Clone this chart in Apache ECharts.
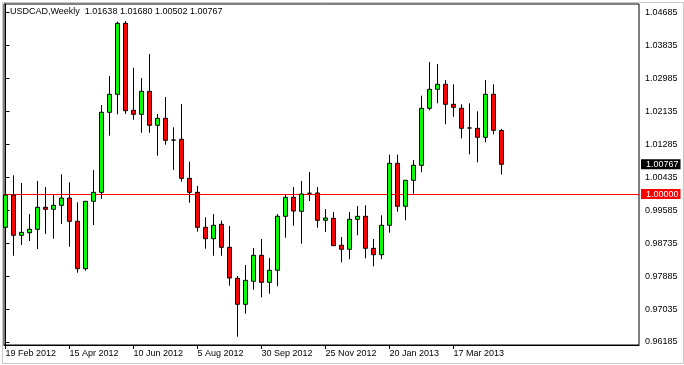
<!DOCTYPE html>
<html><head><meta charset="utf-8">
<script src="https://cdn.jsdelivr.net/npm/echarts@6/dist/echarts.min.js"></script>
<style>html,body{margin:0;padding:0;background:#fff;overflow:hidden}#c{width:684px;height:365px}</style>
</head><body><div id="c"></div>
<script>
const symbol = 'USDCAD';
const period = 'Weekly';
const weeks = ['19 Feb 2012','26 Feb 2012','4 Mar 2012','11 Mar 2012','18 Mar 2012','25 Mar 2012','1 Apr 2012','8 Apr 2012',
  '15 Apr 2012','22 Apr 2012','29 Apr 2012','6 May 2012','13 May 2012','20 May 2012','27 May 2012','3 Jun 2012',
  '10 Jun 2012','17 Jun 2012','24 Jun 2012','1 Jul 2012','8 Jul 2012','15 Jul 2012','22 Jul 2012','29 Jul 2012',
  '5 Aug 2012','12 Aug 2012','19 Aug 2012','26 Aug 2012','2 Sep 2012','9 Sep 2012','16 Sep 2012','23 Sep 2012',
  '30 Sep 2012','7 Oct 2012','14 Oct 2012','21 Oct 2012','28 Oct 2012','4 Nov 2012','11 Nov 2012','18 Nov 2012',
  '25 Nov 2012','2 Dec 2012','9 Dec 2012','16 Dec 2012','23 Dec 2012','30 Dec 2012','6 Jan 2013','13 Jan 2013',
  '20 Jan 2013','27 Jan 2013','3 Feb 2013','10 Feb 2013','17 Feb 2013','24 Feb 2013','3 Mar 2013','10 Mar 2013',
  '17 Mar 2013','24 Mar 2013','31 Mar 2013','7 Apr 2013','14 Apr 2013','21 Apr 2013','28 Apr 2013'];
const opens = [0.99142,0.99975,0.98936,0.99003,0.99091,0.99658,0.99606,0.99709,0.99897,0.99297,
  0.98075,0.99812,1.00044,1.02107,1.02571,1.04401,1.02158,1.02055,1.02648,1.01772,
  1.01952,1.01390,1.01411,1.00405,1.00044,0.99142,0.98848,0.99219,0.98626,0.97827,
  0.97157,0.97750,0.98420,0.97724,0.98034,0.99426,0.99916,0.99555,1.00019,1.00026,
  0.99323,0.99374,0.98678,0.98575,0.99348,0.99426,0.98601,0.98436,0.99194,1.00792,
  0.99684,1.00354,1.00741,1.02210,1.02700,1.02829,1.02313,1.02210,1.01702,1.01694,
  1.01462,1.02571,1.01638];
const closes = [0.99975,0.98936,0.99013,0.99091,0.99658,0.99606,0.99709,0.99897,0.99297,0.98075,
  0.99812,1.00044,1.02107,1.02571,1.04401,1.02148,1.02055,1.02648,1.01772,1.01952,
  1.01385,1.01390,1.00405,1.00044,0.99142,0.98848,0.99194,0.98626,0.97835,0.97157,
  0.97776,0.98420,0.97724,0.98034,0.99426,0.99916,0.99562,1.00001,1.00019,0.99323,
  0.99382,0.98668,0.98575,0.99348,0.99426,0.98601,0.98436,0.99194,1.00792,0.99684,
  1.00354,1.00741,1.02210,1.02700,1.02829,1.02313,1.02236,1.01694,1.01702,1.01462,
  1.02571,1.01643,1.00767];
const lows = [0.99047,0.98410,0.98686,0.98789,0.98583,0.98969,0.98848,0.99227,0.98642,0.97972,
  0.98023,0.99201,0.99879,1.01504,1.02055,1.02063,1.01916,1.01581,1.01581,1.00988,
  1.01272,1.00619,1.00318,0.99776,0.99029,0.98590,0.98410,0.98410,0.97636,0.96322,
  0.96915,0.97533,0.97337,0.97430,0.97621,0.98874,0.99183,0.98719,0.99820,0.99132,
  0.99021,0.98668,0.98240,0.98317,0.98936,0.98343,0.98137,0.98317,0.99003,0.99544,
  0.99323,1.00008,1.00560,1.02158,1.02339,1.01798,1.01994,1.01437,1.01024,1.00818,
  1.01334,1.01540,1.00502];
const highs = [1.00173,1.00483,1.00284,0.99485,1.00336,1.00181,0.99975,1.00508,1.00302,0.99787,
  0.99812,1.00619,1.02295,1.03043,1.04443,1.04461,1.03257,1.02991,1.03610,1.02063,
  1.02501,1.01720,1.02321,1.00833,1.00207,0.99400,0.99485,0.99312,0.99176,0.97887,
  0.98170,0.98608,0.98840,0.98351,0.99485,0.99975,1.00181,1.00336,1.00568,1.00181,
  0.99614,0.99537,0.98892,0.99537,0.99691,0.99709,0.98840,0.99451,1.01014,1.01014,
  1.00354,1.00877,1.02535,1.03404,1.03352,1.02940,1.02829,1.02313,1.02339,1.02133,
  1.02940,1.02829,1.01680];
const yTicks = [0.96185,0.97035,0.97885,0.98735,0.99585,1.00435,1.01285,1.02135,1.02985,1.03835,1.04685];
const xTickIdx = [0,8,16,24,32,40,48,56];
const levelPrice = 1.00000;
const yMin = 0.96108, yMax = 1.04899;
const xMin = -0.1875, xMax = 79.1875;

const FONT = '"Liberation Sans", Arial, sans-serif';
const last = opens.length - 1;
const data = weeks.map((w, i) => [i, opens[i], closes[i], lows[i], highs[i]]);
const titleText = symbol + ',' + period + '  ' + [opens[last], highs[last], lows[last], closes[last]].map(v => v.toFixed(5)).join(' ');

const chart = echarts.init(document.getElementById('c'), null, {renderer: 'canvas'});
chart.setOption({
  animation: false,
  backgroundColor: '#fff',
  title: {text: titleText, left: 10, top: 7, padding: 0,
    textStyle: {fontFamily: FONT, fontSize: 9, fontWeight: 'normal', color: '#000'}},
  graphic: [{type: 'rect', left: 0, top: 0, z: -1, silent: true,
    shape: {x: 0.5, y: 0.5, width: 681, height: 361},
    style: {fill: 'none', stroke: '#c8c8c8', lineWidth: 1}}],
  grid: {left: 4, right: 45, top: 4, bottom: 20, show: true, borderColor: '#000', borderWidth: 1, backgroundColor: '#fff'},
  xAxis: {
    type: 'value', min: xMin, max: xMax,
    splitLine: {show: false},
    axisLine: {show: true, onZero: false, lineStyle: {color: '#000'}},
    axisTick: {show: true, customValues: xTickIdx, length: 4, lineStyle: {color: '#000'}},
    axisLabel: {customValues: xTickIdx, align: 'left', margin: 4, fontFamily: FONT, fontSize: 9, color: '#000',
      lineHeight: 10, formatter: v => weeks[Math.round(v)] || ''}
  },
  yAxis: {
    type: 'value', position: 'right', min: yMin, max: yMax, scale: true,
    splitLine: {show: false},
    axisLine: {show: true, lineStyle: {color: '#000'}},
    axisTick: {show: true, customValues: yTicks, length: 4, lineStyle: {color: '#000'}},
    axisLabel: {customValues: yTicks, margin: 6, fontFamily: FONT, fontSize: 9, color: '#000',
      formatter: v => v.toFixed(5)}
  },
  series: [{
    type: 'candlestick',
    data: data,
    encode: {x: 0, y: [1, 2, 3, 4]},
    barWidth: 4,
    itemStyle: {color: '#00ff00', color0: '#ff0000', borderColor: '#000', borderColor0: '#000', borderColorDoji: '#000', borderWidth: 1},
    markLine: {
      silent: true, symbol: ['none', 'none'], z: 1, animation: false, precision: 5,
      label: {position: 'end', distance: 2, fontFamily: FONT, fontSize: 9, color: '#fff', lineHeight: 10,
        padding: [0, 2, 0, 5], formatter: p => Number(p.value).toFixed(5)},
      data: [
        {yAxis: closes[last], lineStyle: {color: 'rgba(0,0,0,0)', width: 1}, label: {backgroundColor: '#000'}},
        {yAxis: levelPrice, lineStyle: {color: '#ff0000', width: 1, type: 'solid'}, label: {backgroundColor: '#ff0000'}}
      ]
    }
  }]
});
</script></body></html>
